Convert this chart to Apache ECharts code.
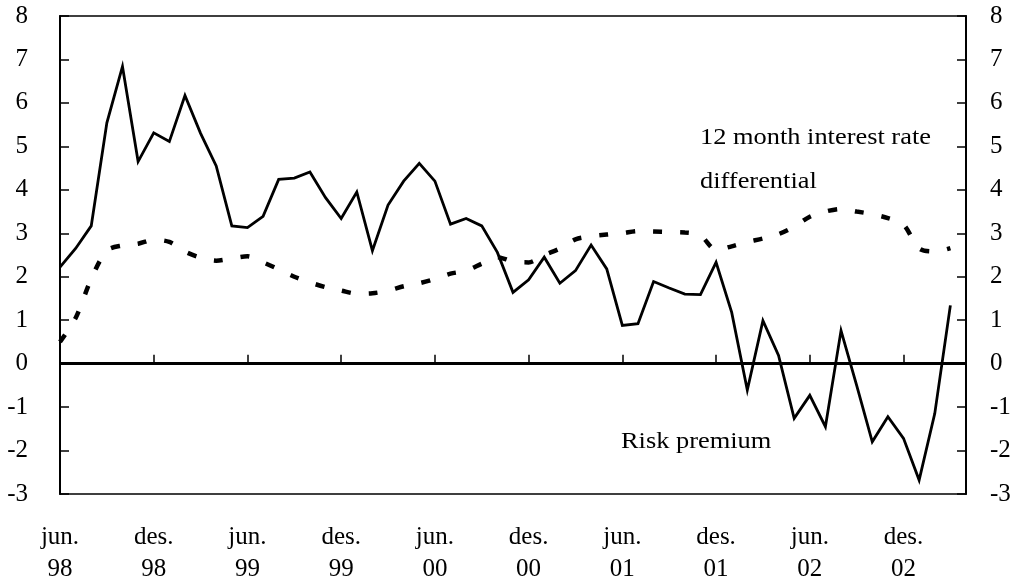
<!DOCTYPE html>
<html>
<head>
<meta charset="utf-8">
<script src="https://cdn.jsdelivr.net/npm/echarts@6/dist/echarts.min.js"></script>
<style>
html,body{margin:0;padding:0;background:#fff;}
#c{width:1017px;height:585px;}
</style>
</head>
<body>
<div id="c"></div>
<script>
// Month names (Norwegian) and axis span: jun. 98 .. apr. 03
const monthNames = ["jan.","feb.","mar.","apr.","mai.","jun.","jul.","aug.","sep.","okt.","nov.","des."];
const startYear = 1998, startMonth = 5, monthCount = 59;
const categories = [];
for (let k = 0; k < monthCount; k++) {
  const m = (startMonth + k) % 12;
  const y = startYear + Math.floor((startMonth + k) / 12);
  categories.push(monthNames[m] + "\n" + String(y % 100).padStart(2, "0"));
}

// Risk premium (monthly, jun. 98 - mar. 03)
const riskPremium = [
  2.22, 2.65, 3.17, 5.54, 6.84, 4.65, 5.31, 5.11, 6.17, 5.3,
  4.55, 3.17, 3.13, 3.39, 4.24, 4.27, 4.41, 3.82, 3.34, 3.95,
  2.60, 3.65, 4.2, 4.61, 4.2, 3.21, 3.34, 3.17, 2.56, 1.64,
  1.93, 2.45, 1.85, 2.14, 2.73, 2.18, 0.88, 0.92, 1.89, 1.74,
  1.6, 1.59, 2.33, 1.18, -0.61, 0.99, 0.19, -1.26, -0.73, -1.45,
  0.76, -0.5, -1.80, -1.22, -1.72, -2.68, -1.15, 1.34
];

// 12 month interest rate differential (monthly, jun. 98 - mar. 03)
const rateDifferential = [
  0.5, 1.05, 1.95, 2.6, 2.72, 2.76, 2.85, 2.8, 2.58, 2.44,
  2.37, 2.42, 2.47, 2.33, 2.17, 2.0, 1.87, 1.76, 1.68, 1.61,
  1.62, 1.68, 1.78, 1.85, 1.95, 2.07, 2.14, 2.3, 2.45, 2.35,
  2.33, 2.5, 2.65, 2.86, 2.93, 2.97, 3.0, 3.05, 3.04, 3.03,
  3.02, 2.95, 2.62, 2.7, 2.8, 2.88, 2.98, 3.15, 3.38, 3.5,
  3.56, 3.5, 3.44, 3.35, 3.2, 2.65, 2.58, 2.66
];

const yMin = -3, yMax = 8, yStep = 1;
const labelSeriesRate = ["12 month interest rate", "differential"];
const labelSeriesRisk = "Risk premium";

const font = "'Liberation Serif', 'Times New Roman', serif";
const chart = echarts.init(document.getElementById('c'), null, {renderer: 'canvas'});

const yAxisCommon = {
  type: 'value', min: yMin, max: yMax, interval: yStep,
  splitLine: {show: false},
  axisLine: {show: true, lineStyle: {color: '#000', width: 2}},
  axisTick: {show: true, inside: true, length: 9, lineStyle: {color: '#000', width: 1.5}},
  axisLabel: {color: '#000', fontFamily: font, fontSize: 25}
};

function annot(text, x, y) {
  return {
    type: 'text', x: x, y: y, scaleX: 1.1, scaleY: 1,
    style: {text: text, font: '24px ' + font, fill: '#000', align: 'left', verticalAlign: 'middle'}
  };
}

chart.setOption({
  animation: false,
  backgroundColor: '#fff',
  grid: {left: 60, right: 51, top: 16, bottom: 89, show: true, borderColor: '#000', borderWidth: 1.5, backgroundColor: 'transparent'},
  xAxis: {
    type: 'category', data: categories, boundaryGap: false,
    axisLine: {show: true, lineStyle: {color: '#000', width: 2}},
    axisTick: {show: true, inside: true, length: 9, interval: 5, lineStyle: {color: '#000', width: 1.5}},
    axisLabel: {interval: 5, color: '#000', fontFamily: font, fontSize: 25, lineHeight: 32, margin: 27},
    splitLine: {show: false}
  },
  yAxis: [
    Object.assign({}, yAxisCommon, {position: 'left', axisLabel: Object.assign({}, yAxisCommon.axisLabel, {margin: 32})}),
    Object.assign({}, yAxisCommon, {position: 'right', axisLabel: Object.assign({}, yAxisCommon.axisLabel, {margin: 24})})
  ],
  series: [
    {
      name: labelSeriesRisk, type: 'line', data: riskPremium, yAxisIndex: 0,
      symbol: 'none', lineStyle: {color: '#000', width: 2.8, join: 'miter'},
      markLine: {
        silent: true, symbol: 'none', label: {show: false},
        lineStyle: {color: '#000', width: 3, type: 'solid'},
        data: [{yAxis: 0}]
      },
      z: 3
    },
    {
      name: labelSeriesRate.join(' '), type: 'line', data: rateDifferential, yAxisIndex: 0,
      symbol: 'none', smooth: 0.3,
      lineStyle: {color: '#000', width: 4.5, type: [9, 18], cap: 'butt'},
      z: 2
    }
  ],
  graphic: [
    annot(labelSeriesRate[0], 700, 138),
    annot(labelSeriesRate[1], 700, 182),
    annot(labelSeriesRisk, 621, 442)
  ]
});
</script>
</body>
</html>
